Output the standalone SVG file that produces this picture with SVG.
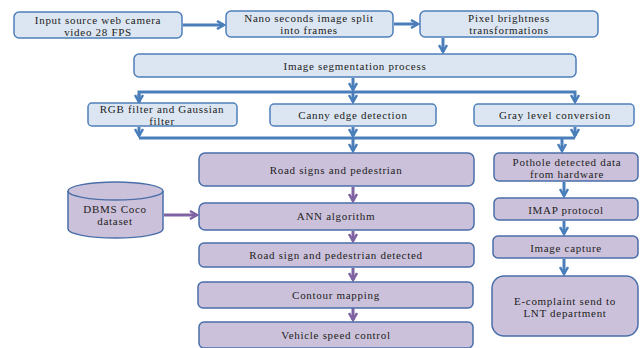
<svg xmlns="http://www.w3.org/2000/svg" width="640" height="348" viewBox="0 0 640 348">
<style>
.b{fill:#dce6f2;stroke:#4f7fba;stroke-width:1.5}
.p{fill:#ccc1da;stroke:#4a6ea9;stroke-width:1.5}
.t{font-family:"Liberation Serif","Times New Roman",serif;font-size:11px;letter-spacing:0.7px;fill:#222;text-anchor:middle}
.cb{fill:none;stroke:#4a7ebb;stroke-width:3}
.cp{fill:none;stroke:#7f62a1;stroke-width:3}
</style>
<defs>
<marker id="ab" markerUnits="userSpaceOnUse" viewBox="0 0 10 10" refX="8" refY="5" markerWidth="10" markerHeight="10" orient="auto">
<path d="M1,1 L8,5 L1,9" fill="none" stroke="#4a7ebb" stroke-width="2.5"/>
</marker>
<marker id="ap" markerUnits="userSpaceOnUse" viewBox="0 0 10 10" refX="8" refY="5" markerWidth="10" markerHeight="10" orient="auto">
<path d="M1,1 L8,5 L1,9" fill="none" stroke="#7f62a1" stroke-width="2.5"/>
</marker>
</defs>
<rect width="640" height="348" fill="#fff"/>
<g id="connectors">
<line class="cb" x1="183" y1="25" x2="224" y2="25" marker-end="url(#ab)"/>
<line class="cb" x1="394" y1="24" x2="418" y2="24" marker-end="url(#ab)"/>
<line class="cb" x1="443" y1="38" x2="443" y2="52" marker-end="url(#ab)"/>
<line class="cb" x1="353" y1="78" x2="353" y2="90" marker-end="url(#ab)"/>
<path class="cb" d="M139,102 V92 H575 V102" marker-end="url(#ab)"/>
<line class="cb" x1="139" y1="94" x2="139" y2="102" marker-end="url(#ab)"/>
<line class="cb" x1="353" y1="92" x2="353" y2="102" marker-end="url(#ab)"/>
<line class="cb" x1="139" y1="127" x2="139" y2="136" marker-end="url(#ab)"/>
<line class="cb" x1="353" y1="127" x2="353" y2="136" marker-end="url(#ab)"/>
<line class="cb" x1="575" y1="127" x2="575" y2="136" marker-end="url(#ab)"/>
<line class="cb" x1="139" y1="138" x2="575" y2="138"/>
<line class="cb" x1="353" y1="138" x2="353" y2="151" marker-end="url(#ab)"/>
<line class="cb" x1="562" y1="138" x2="562" y2="151" marker-end="url(#ab)"/>
<line class="cp" x1="353" y1="187" x2="353" y2="201" marker-end="url(#ap)"/>
<line class="cp" x1="353" y1="231" x2="353" y2="241" marker-end="url(#ap)"/>
<line class="cp" x1="353" y1="268" x2="353" y2="280" marker-end="url(#ap)"/>
<line class="cp" x1="353" y1="308" x2="353" y2="320" marker-end="url(#ap)"/>
<line class="cp" x1="164" y1="215" x2="197" y2="215" marker-end="url(#ap)"/>
<line class="cb" x1="564" y1="182" x2="564" y2="196" marker-end="url(#ab)"/>
<line class="cb" x1="564" y1="221" x2="564" y2="234" marker-end="url(#ab)"/>
<line class="cb" x1="564" y1="259" x2="564" y2="274" marker-end="url(#ab)"/>
</g>
<g id="n1"><rect class="b" x="14" y="12" width="168" height="26" rx="5"/><text class="t" x="98" y="23.5">Input source web camera</text><text class="t" x="98" y="36">video 28 FPS</text></g>
<g id="n2"><rect class="b" x="226" y="11" width="167" height="26" rx="5"/><text class="t" x="309" y="21.5">Nano seconds image split</text><text class="t" x="309" y="34">into frames</text></g>
<g id="n3"><rect class="b" x="420" y="11" width="178" height="26" rx="5"/><text class="t" x="509" y="21.5">Pixel brightness</text><text class="t" x="509" y="34">transformations</text></g>
<g id="n4"><rect class="b" x="134" y="54" width="442" height="23" rx="5"/><text class="t" x="355" y="70">Image segmentation process</text></g>
<g id="n5"><rect class="b" x="88" y="103" width="149" height="23" rx="4"/><text class="t" x="162" y="112.5">RGB  filter and Gaussian</text><text class="t" x="162" y="125">filter</text></g>
<g id="n6"><rect class="b" x="270" y="104" width="166" height="22" rx="4"/><text class="t" x="353" y="119">Canny edge detection</text></g>
<g id="n7"><rect class="b" x="474" y="104" width="160" height="22" rx="4"/><text class="t" x="555" y="119">Gray level conversion</text></g>
<g id="n8"><rect class="p" x="199" y="153" width="275" height="33" rx="6"/><text class="t" x="336" y="174">Road signs and pedestrian</text></g>
<g id="n9"><rect class="p" x="199" y="203" width="275" height="27" rx="6"/><text class="t" x="336" y="220">ANN algorithm</text></g>
<g id="n10"><rect class="p" x="199" y="243" width="275" height="24" rx="5"/><text class="t" x="336" y="259">Road sign and pedestrian detected</text></g>
<g id="n11"><rect class="p" x="198" y="282" width="275" height="26" rx="5"/><text class="t" x="336" y="299">Contour mapping</text></g>
<g id="n12"><rect class="p" x="199" y="322" width="274" height="26" rx="5"/><text class="t" x="336" y="339">Vehicle speed control</text></g>
<g id="n13"><path class="p" d="M68,191 V229 A47.5,9 0 0 0 163,229 V191"/><ellipse class="p" cx="115.5" cy="191" rx="47.5" ry="9"/><text class="t" x="115" y="212.5">DBMS  Coco</text><text class="t" x="115" y="225">dataset</text></g>
<g id="n14"><rect class="p" x="494" y="153" width="144" height="28" rx="5"/><text class="t" x="567" y="165.5">Pothole detected data</text><text class="t" x="567" y="178">from hardware</text></g>
<g id="n15"><rect class="p" x="494" y="198" width="144" height="22" rx="5"/><text class="t" x="566" y="214">IMAP protocol</text></g>
<g id="n16"><rect class="p" x="493" y="236" width="145" height="22" rx="5"/><text class="t" x="566" y="252">Image capture</text></g>
<g id="n17"><rect class="p" x="492" y="276" width="146" height="60" rx="12"/><text class="t" x="565" y="304.5">E-complaint send to</text><text class="t" x="565" y="317">LNT department</text></g>
</svg>
